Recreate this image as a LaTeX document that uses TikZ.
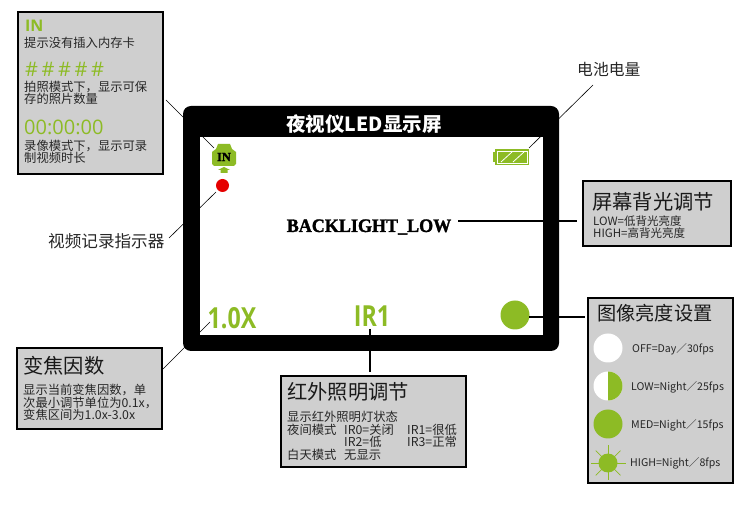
\documentclass[tikz,border=0pt]{standalone}
\usepackage{fontspec}
\setmainfont{Noto Sans CJK SC}
\newfontfamily\latn{Open Sans}
\newfontfamily\slab[BoldFeatures={FakeBold=1.6}]{Liberation Serif}
\usepackage{xcolor}
\usepackage{tikz}
\usetikzlibrary{positioning}
\definecolor{Led}{HTML}{8DBB25}
\definecolor{Panel}{HTML}{CFCFCF}
\newcommand\Fs[1]{\fontsize{#1}{#1}\selectfont}

\begin{document}
\begin{tikzpicture}[x=1pt, y=-1pt,
    panel/.style = {draw, line width=1.6pt, fill=Panel, inner sep=0pt, anchor=north west},
    head/.style = {anchor=west, inner sep=0pt, text=black!90, font=\Fs{20.3}},
    body/.style = {anchor=north west, inner sep=0pt, align=left, text=black!85, font=\fontsize{12.3}{12.4}\selectfont},
    tiny/.style = {anchor=west, inner sep=0pt, text=black!85, font=\Fs{12.3}},
    rate/.style = {anchor=west, inner sep=0pt, text=black!85, font=\Fs{10.6}},
    bulb/.style = {circle, fill=Led, inner sep=0pt, minimum size=29pt},
    lead/.style = {line width=0.6pt},
    bar/.style = {line width=1.5pt}]
  \useasboundingbox (0,0) rectangle (750,510);

  % the display
  \node [fill=black, rounded corners=8pt, inner sep=0pt, minimum width=376pt, minimum height=245pt] (monitor) at (371,228.5) {};
  \node [fill=white, inner sep=0pt, minimum width=343pt, minimum height=198pt] (screen) at (371.5,236) {};
  \node [text=white, inner sep=0pt, font=\bfseries\Fs{19.5}] (title) at (364,124) {夜视仪LED显示屏};
  \node [inner sep=0pt, font=\slab\bfseries\Fs{19}] (blight) at (369,227) {\scalebox{0.95}[1]{BACKLIGHT\_LOW}};
  \node [text=Led, inner sep=0pt, font=\latn\bfseries\Fs{29}] (zoomval) at (232,318) {\scalebox{0.8}[1]{1.0X}};
  \node [text=Led, inner sep=0pt, font=\latn\bfseries\Fs{29}] (irval) at (372,316) {\scalebox{0.8}[1]{IR1}};
  \node [bulb] (state) at (515,315) {};
  \node [circle, fill=red!90!black, inner sep=0pt, minimum size=13pt] (rec) at (222.5,185.5) {};

  % card icon
  \fill [Led] (212,152) -- (216,149) -- (218,144) -- (230,144) -- (232,149) -- (236,152) -- (236,164) -- (234,166) -- (214,166) -- (212,164) -- cycle;
  \fill [Led] (218,170) -- (224,167) -- (230,170) -- (227.5,170) -- (227.5,173) -- (220.5,173) -- (220.5,170) -- cycle;
  \node [inner sep=0pt, font=\slab\bfseries\Fs{12.5}] (icon) at (224,157) {IN};

  % battery
  \fill [Led] (493,152) rectangle (495,162);
  \fill [Led] (495,149) rectangle (529,165);
  \draw [white, line width=0.6pt] (497,151) rectangle (527,163);
  \foreach \x in {501,513} {
    \draw [white, line width=0.8pt] (\x,162) -- (\x+11,152);
  }

  % connectors
  \coordinate (cardtip) at (166,100);
  \coordinate (icontip) at (214,148);
  \coordinate (rectip) at (216,192);
  \coordinate (reclabel) at (169,238);
  \coordinate (powertip) at (593,85);
  \coordinate (cell) at (529,148);
  \coordinate (zoomtip) at (210,322);
  \coordinate (zoomlabel) at (163,369);
  \coordinate (irtip) at (370,329);
  \coordinate (irlabel) at (370,372);
  \coordinate (lighttip) at (458,221);
  \coordinate (lightlabel) at (577,221);
  \coordinate (statetip) at (529,317);
  \coordinate (statelabel) at (585,317);
  \draw [lead] (cardtip) -- (icontip);
  \draw [lead] (rectip) -- (reclabel);
  \draw [lead] (powertip) -- (cell);
  \draw [lead] (zoomtip) -- (zoomlabel);
  \draw [bar] (irtip) -- (irlabel);
  \draw [bar] (lighttip) -- (lightlabel);
  \draw [bar] (statetip) -- (statelabel);

  % free labels
  \node [anchor=west, inner sep=0pt, text=black!85, font=\Fs{16.6}] (reclbl) at (48,241) {视频记录指示器};
  \node [anchor=west, inner sep=0pt, text=black!85, font=\Fs{15.8}] (powerlbl) at (577,69) {电池电量};

  % top left panel
  \node [panel, minimum width=145pt, minimum height=162pt] (cardbox) at (17,11) {};
  \node [anchor=west, inner sep=0pt, text=Led, font=\latn\bfseries\Fs{16}] (inlbl) at (25,26) {IN};
  \node [tiny] (incard) at (24,43) {提示没有插入内存卡};
  \foreach \n in {0,...,4} {
    \node [inner sep=0pt, text=Led, font=\latn\Fs{20}] (hash\n) at (31.5+16.5*\n,69) {\#};
  }
  \node [body] (shots) at (24,80.5) {拍照模式下，显示可保\\存的照片数量};
  \node [anchor=west, inner sep=0pt, text=Led, font=\latn\Fs{20}] (clock) at (24,127) {00:00:00};
  \node [body] (movie) at (24,139.5) {录像模式下，显示可录\\制视频时长};

  % zoom panel
  \node [panel, minimum width=145pt, minimum height=81pt] (zoombox) at (16,347) {};
  \node [head] (zoomhead) at (23,366) {变焦因数};
  \node [body] (zoomtxt) at (23,384) {显示当前变焦因数，单\\次最小调节单位为0.1x，\\变焦区间为1.0x-3.0x};

  % infrared panel
  \node [panel, minimum width=185pt, minimum height=91pt] (irbox) at (280,375) {};
  \node [head] (irhead) at (287,392) {红外照明调节};
  \node [tiny] (irline) at (287,417) {显示红外照明灯状态};
  \node [tiny] (irnight) at (287,430) {夜间模式};
  \node [tiny] (irday) at (287,455) {白天模式};
  \node [tiny] (irnone) at (344,455) {无显示};
  \node [tiny] (ir0) at (344,430) {IR0=关闭};
  \node [tiny] (ir2) at (344,442) {IR2=低};
  \node [tiny] (ir1) at (407,430) {IR1=很低};
  \node [tiny] (ir3) at (407,442) {IR3=正常};

  % backlight panel
  \node [panel, minimum width=148pt, minimum height=65pt] (lightbox) at (582,180) {};
  \node [head] (lighthead) at (592,202) {屏幕背光调节};
  \node [tiny, font=\Fs{11.5}] (lightlow) at (593,221) {LOW=低背光亮度};
  \node [tiny, font=\Fs{11.5}] (lighthigh) at (593,233) {HIGH=高背光亮度};

  % brightness panel
  \node [panel, minimum width=145pt, minimum height=185pt] (statebox) at (587,297) {};
  \node [head, font=\Fs{19.2}] (statehead) at (597,313) {图像亮度设置};
  \node [bulb, fill=white] (off) at (608,348) {};
  \node [bulb, fill=white] (low) at (608,386) {};
  \fill [Led] (low.center) ++(0,-14.5) arc [start angle=90, end angle=-90, radius=14.5pt] -- cycle;
  \node [bulb] (med) at (608,424) {};
  \node [bulb, minimum size=19pt] (high) at (608,463) {};
  \foreach \a in {0,45,...,315} {
    \draw [Led, line width=0.7pt] (high.center) -- ++(\a:17.5pt);
  }
  \node [rate] (offtxt) at (632,349) {OFF=Day／30fps};
  \node [rate] (lowtxt) at (631,387) {LOW=Night／25fps};
  \node [rate] (medtxt) at (631,425) {MED=Night／15fps};
  \node [rate] (hightxt) at (630,463) {HIGH=Night／8fps};
\end{tikzpicture}
\end{document}
